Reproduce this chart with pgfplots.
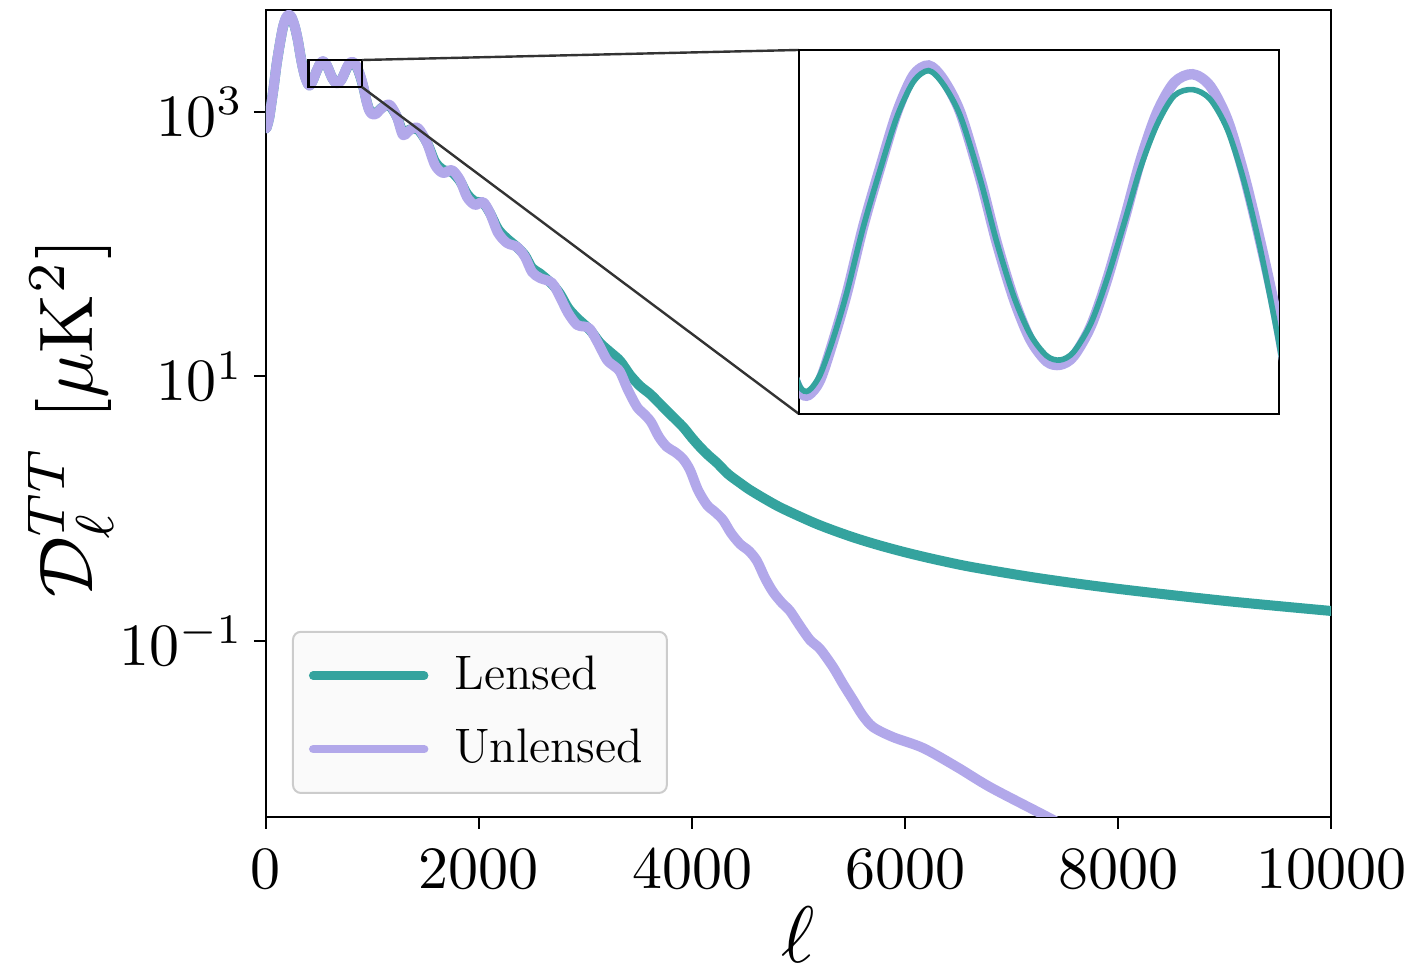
\RequirePackage{fix-cm}
\documentclass[border=0pt]{standalone}
\usepackage{pgfplots}
\usepackage{pgfplotstable}
\pgfplotsset{compat=1.18}

\definecolor{lensed}{RGB}{52,163,158}
\definecolor{unlensed}{RGB}{178,168,234}

% D_ell^TT [muK^2], unlensed
\pgfplotstableread{
ell Dl
2 750
10 780
30 900
50 1150
75 1600
100 2300
131 3300
160 4400
190 5200
216 5420
240 5200
272 4380
300 3450
319 2790
340 2250
366 1840
390 1640
401 1587
410 1580
422 1611
436 1697
450 1803
467 1965
485 2123
502 2275
519 2386
535 2417
550 2375
568 2275
589 2087
606 1923
624 1787
641 1697
658 1650
672 1643
686 1661
704 1727
721 1834
739 1982
756 2141
773 2275
791 2365
810 2390
828 2355
846 2256
863 2105
880 1931
898 1741
920 1480
945 1190
970 1020
1000 955
1030 960
1099 1088
1164 1128
1230 914
1286 668
1352 729
1427 755
1512 581
1587 396
1662 345
1746 363
1822 305
1887 227
1962 198
2038 208
2103 172
2178 122
2263 102
2357 95.3
2432 80
2498 61.6
2573 55.5
2685 51
2761 39.9
2836 30.2
2920 24.51
2986 23.87
3042 22.86
3117 17.91
3202 13.33
3268 12.00
3325 10.81
3399 7.907
3484 5.883
3549 5.208
3615 4.531
3690 3.488
3765 2.932
3840 2.687
3916 2.379
3981 1.965
4056 1.387
4141 1.068
4216 0.946
4291 0.823
4366 0.656
4451 0.5418
4535 0.4797
4610 0.4031
4685 0.2998
4761 0.2350
4845 0.1941
4920 0.1689
5014 0.1300
5108 0.1019
5202 0.0872
5324 0.0637
5418 0.0474
5512 0.0359
5600 0.0276
5700 0.0224
5887 0.0188
6169 0.01556
6488 0.01117
6798 0.00788
7268 0.00501
7500 0.0040
}\unlensedtab

% D_ell^TT [muK^2], lensed
\pgfplotstableread{
ell Dl
2 750
10 780
30 900
50 1150
75 1600
100 2300
131 3290
160 4370
190 5150
216 5350
240 5150
272 4350
300 3450
319 2800
340 2270
366 1860
390 1660
401 1597
410 1589
422 1622
436 1702
450 1805
467 1963
485 2117
502 2262
519 2366
535 2401
550 2360
568 2265
589 2085
606 1925
624 1793
641 1708
658 1662
672 1653
686 1670
704 1733
721 1836
739 1975
756 2120
773 2240
791 2325
810 2343
828 2315
846 2227
863 2087
880 1914
898 1712
920 1470
945 1200
970 1040
1000 975
1030 975
1099 1090
1164 1105
1230 915
1286 700
1352 735
1427 735
1512 585
1587 420
1662 365
1746 350
1822 300
1887 240
1962 210
2038 205
2103 172
2178 130
2263 110
2357 95
2432 82
2498 66
2573 60
2685 50
2761 42
2836 33
2920 27.69
3042 22.46
3136 17.91
3230 15.32
3325 13.10
3418 10.26
3512 8.475
3606 7.375
3700 6.196
3793 5.208
3916 4.152
4000 3.428
4075 2.932
4150 2.551
4235 2.220
4338 1.832
4451 1.567
4545 1.387
4700 1.168
4855 1.000
5174 0.766
5484 0.6196
5747 0.5326
6019 0.4650
6301 0.4111
6639 0.3612
7268 0.2978
8000 0.2481
9005 0.2012
10000 0.1689
}\lensedtab

\begin{document}
\begin{tikzpicture}[x=1pt,y=1pt]
\useasboundingbox (0,0) rectangle (353,242.5);

\begin{axis}[
  name=main,
  at={(66.5pt,38.25pt)}, anchor=south west,
  scale only axis, width=266.25pt, height=201.75pt,
  xmin=0, xmax=10000,
  ymode=log, ymin=0.00468, ymax=5890,
  xtick={0,2000,4000,6000,8000,10000},
  ytick={0.1,10,1000},
  yminorticks=false,
  scaled x ticks=false,
  xticklabel style={/pgf/number format/1000 sep={}},
  tick align=outside, xtick pos=left, ytick pos=left,
  major tick length=3pt,
  every tick/.style={black, line width=0.5pt},
  axis line style={line width=0.6pt},
  tick label style={font=\fontsize{10}{12}\selectfont, scale=1.5, transform shape},
  yticklabel style={xshift=1.8pt},
  xlabel={$\ell$},
  ylabel={$\mathcal{D}_{\ell}^{TT}\ [\mu\mathrm{K}^2]$},
  every axis x label/.style={at={(axis description cs:0.5,-0.1462)}, anchor=center, inner sep=0pt,
    font=\fontsize{10}{12}\selectfont, scale=2, transform shape},
  every axis y label/.style={at={(axis description cs:-0.183,0.494)}, rotate=90, anchor=center,
    font=\fontsize{10}{12}\selectfont, scale=1.9, transform shape},
  legend cell align=left,
  legend image code/.code={\draw[#1, line width=2.1pt] (0pt,0pt) -- (27.75pt,0pt);},
  legend style={at={(0.0244,0.0285)}, anchor=south west,
    draw=black!20, fill=black!2, rounded corners=2pt, line width=0.5pt,
    font=\fontsize{12.1}{14.5}\selectfont,
    inner xsep=4pt, inner ysep=4pt, row sep=4.5pt,
    /tikz/every odd column/.append style={column sep=4.5pt}},
]
\addplot[lensed, line width=2.5pt, smooth, line join=round, line cap=round] table[x=ell,y=Dl]{\lensedtab};
\addlegendentry{Lensed}
\addplot[unlensed, line width=2.5pt, smooth, line join=round, line cap=round] table[x=ell,y=Dl]{\unlensedtab};
\addlegendentry{Unlensed}
\draw[black, line width=0.6pt] (axis cs:400,1542) rectangle (axis cs:900,2466);
\coordinate (zTR) at (axis cs:900,2466);
\coordinate (zBR) at (axis cs:900,1542);
\end{axis}

\draw[black!80, line width=0.6pt] (zTR) -- (199.75,230);
\draw[black!80, line width=0.6pt] (zBR) -- (199.75,139);

\begin{axis}[
  name=inset,
  at={(199.75pt,139pt)}, anchor=south west,
  scale only axis, width=120pt, height=91pt,
  xmin=400, xmax=900,
  ymode=log, ymin=1542, ymax=2466,
  xtick=\empty, ytick=\empty,
  axis line style={line width=0.6pt},
  axis background/.style={fill=white},
]
\addplot[unlensed, line width=2.6pt, smooth, restrict x to domain=380:920] table[x=ell,y=Dl]{\unlensedtab};
\addplot[lensed, line width=1.4pt, smooth, restrict x to domain=380:920] table[x=ell,y=Dl]{\lensedtab};
\end{axis}
\end{tikzpicture}
\end{document}
